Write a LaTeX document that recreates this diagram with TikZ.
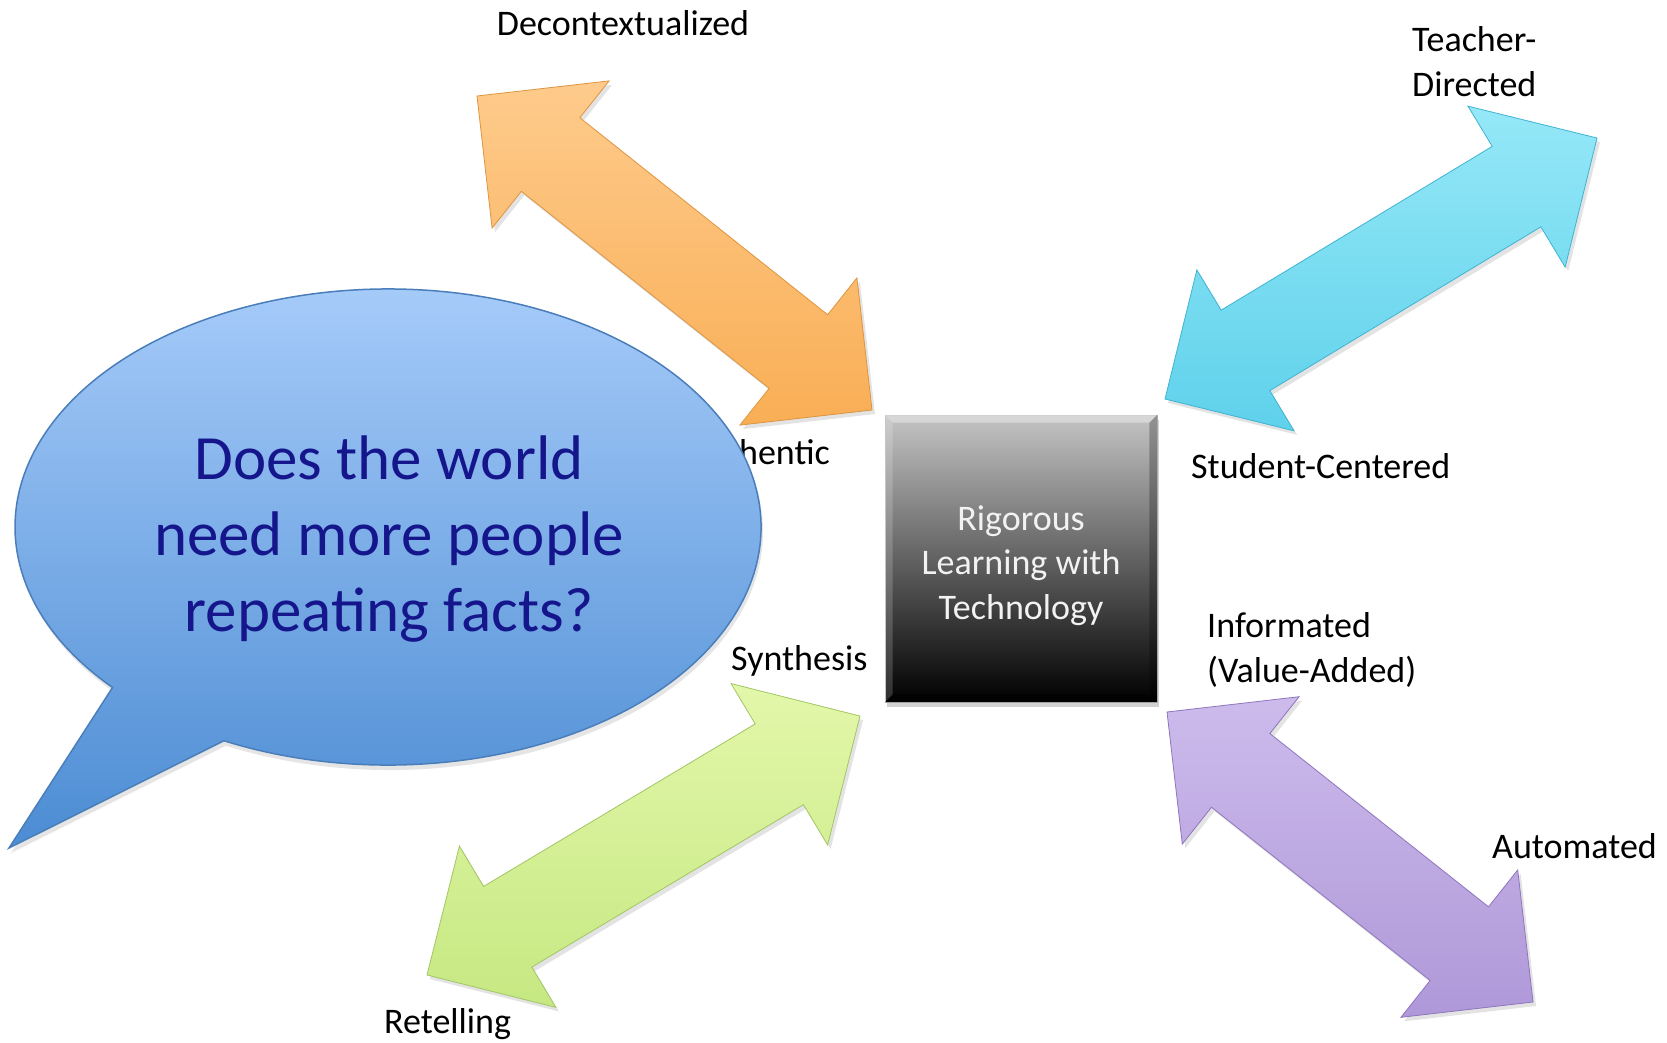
\documentclass[tikz,border=0pt]{standalone}
\usepackage{fontspec}
\setmainfont{Carlito}
\usetikzlibrary{calc,shadows}

\definecolor{orLight}{HTML}{FECB8C}
\definecolor{orBase}{HTML}{F9AE55}
\definecolor{orEdge}{HTML}{DE9540}
\definecolor{cyLight}{HTML}{95E8F7}
\definecolor{cyBase}{HTML}{5FD1EB}
\definecolor{cyEdge}{HTML}{3FB3D2}
\definecolor{grLight}{HTML}{E3F7AA}
\definecolor{grBase}{HTML}{C6E882}
\definecolor{grEdge}{HTML}{A2C664}
\definecolor{puLight}{HTML}{CDBBEC}
\definecolor{puBase}{HTML}{AF98D8}
\definecolor{puEdge}{HTML}{8E75BE}
\definecolor{bubTop}{HTML}{AACEFB}
\definecolor{bubBot}{HTML}{4C8CD3}
\definecolor{bubEdge}{HTML}{4A7EBB}
\definecolor{bubText}{HTML}{16168C}
\definecolor{boxTop}{HTML}{C4C4C4}
\definecolor{boxMid}{HTML}{6A6A6A}

\tikzset{
  lbl/.style={font=\fontsize{36}{44.5}\selectfont, text=black, inner sep=0pt},
  arrowfill/.style n args={3}{draw=#3, line width=0.8pt, top color=#1, bottom color=#2,
     drop shadow={opacity=0.22, shadow xshift=3pt, shadow yshift=-4pt}},
  centerbox/.style={minimum width=272pt, minimum height=287pt, inner sep=0pt,
     top color=boxTop, middle color=boxMid, bottom color=black, draw=gray!55, line width=0.8pt,
     drop shadow={opacity=0.35, shadow xshift=2pt, shadow yshift=-5pt}},
  boxtext/.style={font=\fontsize{36}{44.5}\selectfont, text=white!95!black, align=center, inner sep=0pt},
  bubble/.style={draw=bubEdge, line width=1.5pt, top color=bubTop, bottom color=bubBot,
     drop shadow={opacity=0.2, shadow xshift=2pt, shadow yshift=-5pt}},
  bubtext/.style={font=\fontsize{63}{76}\selectfont, text=bubText, align=center, inner sep=0pt}
}

\newcommand\dblarr[3]{%
  \path[#3] (#1)
   -- ($(#1)!94pt!(#2)!94pt!90:(#2)$)
   -- ($(#1)!94pt!(#2)!47pt!90:(#2)$)
   -- ($(#2)!94pt!(#1)!47pt!-90:(#1)$)
   -- ($(#2)!94pt!(#1)!94pt!-90:(#1)$)
   -- (#2)
   -- ($(#2)!94pt!(#1)!94pt!90:(#1)$)
   -- ($(#2)!94pt!(#1)!47pt!90:(#1)$)
   -- ($(#1)!94pt!(#2)!47pt!-90:(#2)$)
   -- ($(#1)!94pt!(#2)!94pt!-90:(#2)$)
   -- cycle;}

\begin{document}
\begin{tikzpicture}[x=1pt,y=-1pt]
\useasboundingbox (0,0) rectangle (1667,1042);
\fill[white] (0,0) rectangle (1667,1042);

% arrow end points
\coordinate (o1) at (477,96);
\coordinate (o2) at (872,410);
\coordinate (c1) at (1165,399);
\coordinate (c2) at (1597,138);
\coordinate (g1) at (427,975);
\coordinate (g2) at (860,716);
\coordinate (p1) at (1167,712);
\coordinate (p2) at (1533,1002);

\dblarr{o1}{o2}{arrowfill={orLight}{orBase}{orEdge}}
\dblarr{c1}{c2}{arrowfill={cyLight}{cyBase}{cyEdge}}
\dblarr{g1}{g2}{arrowfill={grLight}{grBase}{grEdge}}
\dblarr{p1}{p2}{arrowfill={puLight}{puBase}{puEdge}}

% labels
\node[lbl, anchor=base] (ldec) at (623,35) {Decontextualized};
\node[lbl, anchor=base west, align=left] (ltea) at (1412,96) {Teacher-\\Directed};
\node[lbl, anchor=base west] (lstu) at (1191,478) {Student-Centered};
\node[lbl, anchor=base west, align=left] (linf) at (1207,682) {Informated\\(Value-Added)};
\node[lbl, anchor=base west] (laut) at (1492,858) {Automated};
\node[lbl, anchor=base west] (lsyn) at (731,670) {Synthesis};
\node[lbl, anchor=base west] (lret) at (384,1033) {Retelling};
\node[lbl, anchor=base east] (lauth) at (830,464) {Authentic};

% central box
\node[centerbox] (box) at (1021,558.5) {};
\fill[white, opacity=0.35] (box.north west) -- (box.north east) -- ($(box.north east)+(-8,8)$) -- ($(box.north west)+(8,8)$) -- cycle;
\fill[white, opacity=0.18] (box.north west) -- ($(box.north west)+(8,8)$) -- ($(box.south west)+(8,-8)$) -- (box.south west) -- cycle;
\fill[black, opacity=0.25] (box.north east) -- (box.south east) -- ($(box.south east)+(-8,-8)$) -- ($(box.north east)+(-8,8)$) -- cycle;
\fill[black, opacity=0.35] (box.south west) -- ($(box.south west)+(8,-8)$) -- ($(box.south east)+(-8,-8)$) -- (box.south east) -- cycle;
\node[boxtext] (boxlabel) at ($(box.center)+(0,7)$) {Rigorous\\Learning with\\Technology};

% speech bubble
\coordinate (bc) at (388,527);
\coordinate (btip) at (9,848);
\path[bubble] ($(bc)+(116.1:373 and 238)$)
  arc[start angle=116.1, end angle=-222.4, x radius=373, y radius=238]
  -- (btip) -- cycle;
\node[bubtext] (bubq) at (389,539) {Does the world\\need more people\\repeating facts?};
\end{tikzpicture}
\end{document}
